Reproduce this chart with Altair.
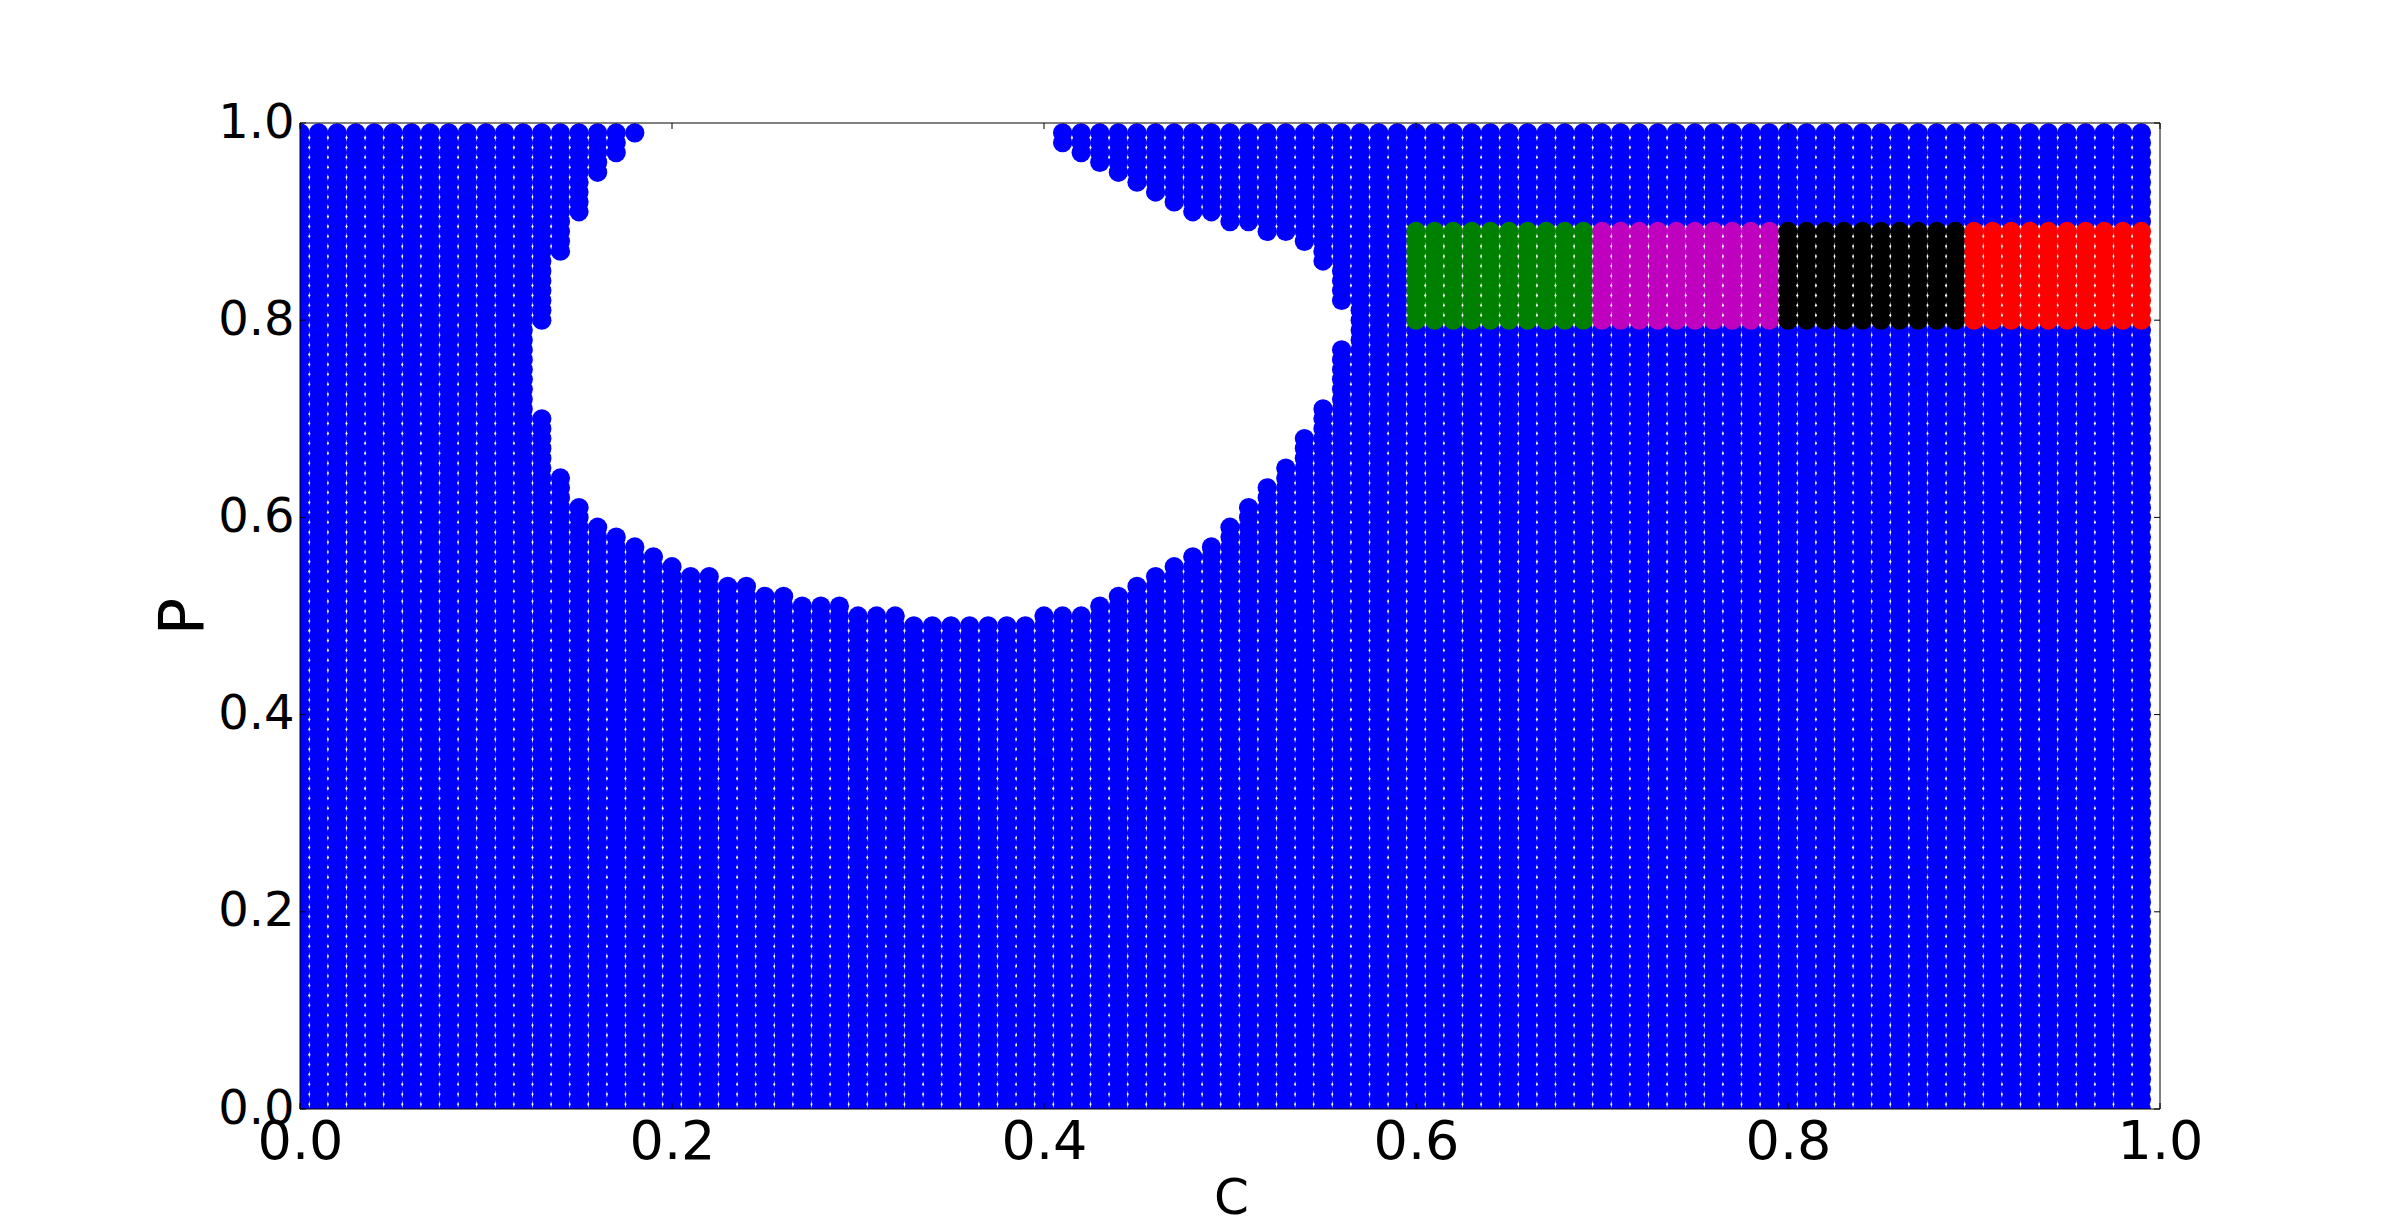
import altair as alt
import pandas as pd

# grid of the simulation (C and P both sampled every 0.01 from 0.00 to 0.99)
grid_steps = list(range(100))          # index k -> value k/100

# hole (no point plotted): for each C column, the last P plotted below the hole
# and the first P plotted above it (1.00 = hole reaches the top)
hole_c = [0.13, 0.14, 0.15, 0.16, 0.17, 0.18, 0.19, 0.20, 0.21, 0.22, 0.23,
          0.24, 0.25, 0.26, 0.27, 0.28, 0.29, 0.30, 0.31, 0.32, 0.33, 0.34,
          0.35, 0.36, 0.37, 0.38, 0.39, 0.40, 0.41, 0.42, 0.43, 0.44, 0.45,
          0.46, 0.47, 0.48, 0.49, 0.50, 0.51, 0.52, 0.53, 0.54, 0.55, 0.56]
hole_below = [0.70, 0.64, 0.61, 0.59, 0.58, 0.57, 0.56, 0.55, 0.54, 0.54, 0.53,
              0.53, 0.52, 0.52, 0.51, 0.51, 0.51, 0.50, 0.50, 0.50, 0.49, 0.49,
              0.49, 0.49, 0.49, 0.49, 0.49, 0.50, 0.50, 0.50, 0.51, 0.52, 0.53,
              0.54, 0.55, 0.56, 0.57, 0.59, 0.61, 0.63, 0.65, 0.68, 0.71, 0.77]
hole_above = [0.80, 0.87, 0.91, 0.95, 0.97, 0.99, 1.00, 1.00, 1.00, 1.00, 1.00,
              1.00, 1.00, 1.00, 1.00, 1.00, 1.00, 1.00, 1.00, 1.00, 1.00, 1.00,
              1.00, 1.00, 1.00, 1.00, 1.00, 1.00, 0.98, 0.97, 0.96, 0.95, 0.94,
              0.93, 0.92, 0.91, 0.91, 0.90, 0.90, 0.89, 0.89, 0.88, 0.86, 0.82]

# coloured block
block_p_range = [0.80, 0.89]
block_c_start = [0.60, 0.70, 0.80, 0.90]
block_c_end = [0.69, 0.79, 0.89, 0.99]
block_group = ["g", "m", "k", "r"]

group_order = ["b", "g", "m", "k", "r"]
group_colors = ["#0000ff", "#008000", "#bf00bf", "#000000", "#ff0000"]

x_ticks = [0.0, 0.2, 0.4, 0.6, 0.8, 1.0]
y_ticks = [0.0, 0.2, 0.4, 0.6, 0.8, 1.0]

# ---- build table ----
hole = {round(c * 100): (round(lo * 100), round(hi * 100))
        for c, lo, hi in zip(hole_c, hole_below, hole_above)}
pb_lo, pb_hi = round(block_p_range[0] * 100), round(block_p_range[1] * 100)
rows = {g: [] for g in group_order}
for ci in grid_steps:
    for pi in grid_steps:
        if ci in hole:
            lo, hi = hole[ci]
            if lo < pi < hi:
                continue
        g = "b"
        if pb_lo <= pi <= pb_hi:
            for s, e, name in zip(block_c_start, block_c_end, block_group):
                if round(s * 100) <= ci <= round(e * 100):
                    g = name
        rows[g].append({"C": ci / 100, "P": pi / 100, "g": g})
records = []
for g in group_order:
    records.extend(rows[g])
df = pd.DataFrame(records)

W, H = 1860, 986
FONT = "DejaVu Sans"

xscale = alt.Scale(domain=[0, 1], nice=False, zero=False)
yscale = alt.Scale(domain=[0, 1], nice=False, zero=False)

points = alt.Chart(df).mark_circle(size=372, opacity=1, clip=True).encode(
    x=alt.X("C:Q", scale=xscale,
            axis=alt.Axis(values=x_ticks, format=".1f", ticks=False, domain=False,
                          grid=False, labelFontSize=54, labelFont=FONT,
                          labelColor="black", labelPadding=6, labelFlush=False,
                          title="C", titleFontSize=50, titleFont=FONT,
                          titleFontWeight="normal", titleColor="black",
                          titleX=931, titleY=104, titleBaseline="alphabetic",
                          titleAlign="center")),
    y=alt.Y("P:Q", scale=yscale,
            axis=alt.Axis(values=y_ticks, format=".1f", ticks=False, domain=False,
                          grid=False, labelFontSize=48, labelFont=FONT,
                          labelColor="black", labelPadding=6, labelFlush=False,
                          title="P", titleFontSize=62, titleFont=FONT,
                          titleFontWeight="normal", titleColor="black",
                          titleX=-98, titleY=493, titleAngle=270,
                          titleBaseline="alphabetic", titleAlign="center")),
    color=alt.Color("g:N", scale=alt.Scale(domain=group_order, range=group_colors),
                    legend=None),
)

xt = pd.DataFrame({"C": x_ticks})
yt = pd.DataFrame({"P": y_ticks})
TL = 6
tick_top = alt.Chart(xt).mark_rule(color="black", strokeWidth=1).encode(
    x="C:Q", y=alt.value(0), y2=alt.value(TL))
tick_bot = alt.Chart(xt).mark_rule(color="black", strokeWidth=1).encode(
    x="C:Q", y=alt.value(H - TL), y2=alt.value(H))
tick_left = alt.Chart(yt).mark_rule(color="black", strokeWidth=1).encode(
    y="P:Q", x=alt.value(0), x2=alt.value(TL))
tick_right = alt.Chart(yt).mark_rule(color="black", strokeWidth=1).encode(
    y="P:Q", x=alt.value(W - TL), x2=alt.value(W))

frame_df = pd.DataFrame({"k": [0]})
frame = [
    alt.Chart(frame_df).mark_rule(color="black", strokeWidth=1).encode(
        x=alt.value(0), x2=alt.value(W), y=alt.value(0)),
    alt.Chart(frame_df).mark_rule(color="black", strokeWidth=1).encode(
        x=alt.value(0), x2=alt.value(W), y=alt.value(H)),
    alt.Chart(frame_df).mark_rule(color="black", strokeWidth=1).encode(
        y=alt.value(0), y2=alt.value(H), x=alt.value(0)),
    alt.Chart(frame_df).mark_rule(color="black", strokeWidth=1).encode(
        y=alt.value(0), y2=alt.value(H), x=alt.value(W)),
]

chart = alt.layer(points, tick_top, tick_bot, tick_left, tick_right, *frame).properties(
    width=W, height=H,
    autosize=alt.AutoSizeParams(type="none"),
    padding={"left": 292, "top": 115, "right": 232, "bottom": 115},
    background="white",
).configure_view(stroke=None)

chart.save("out.html", embed_options={"renderer": "svg", "actions": False})
